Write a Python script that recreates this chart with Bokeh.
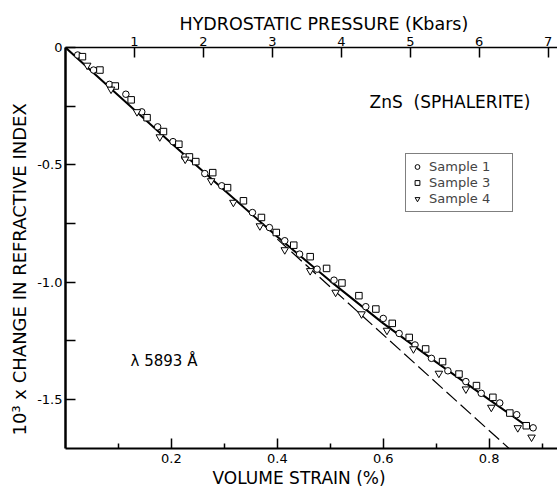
from bokeh.plotting import figure
from bokeh.models import (Range1d, LinearAxis, FixedTicker, Label, Legend, LegendItem, Title)
from bokeh.embed import file_html
from bokeh.resources import INLINE

# ---- data ----
s1_strain = [0.023, 0.053, 0.083, 0.114, 0.144, 0.174, 0.203, 0.225, 0.263, 0.295, 0.353,
             0.385, 0.414, 0.442, 0.475, 0.507, 0.567, 0.600, 0.630, 0.660, 0.691, 0.722,
             0.756, 0.785, 0.820, 0.852, 0.883]
s1_change = [-0.032, -0.096, -0.157, -0.199, -0.274, -0.338, -0.401, -0.466, -0.537, -0.589, -0.703,
             -0.767, -0.823, -0.880, -0.944, -0.991, -1.104, -1.154, -1.218, -1.267, -1.324, -1.377,
             -1.423, -1.473, -1.514, -1.564, -1.620]

s3_strain = [0.032, 0.065, 0.094, 0.124, 0.154, 0.185, 0.214, 0.234, 0.246, 0.278, 0.306, 0.336,
             0.370, 0.398, 0.431, 0.462, 0.493, 0.522, 0.554, 0.586, 0.617, 0.649, 0.680, 0.712,
             0.743, 0.776, 0.807, 0.839, 0.870]
s3_change = [-0.039, -0.096, -0.164, -0.223, -0.299, -0.358, -0.412, -0.466, -0.486, -0.533, -0.597, -0.653,
             -0.724, -0.788, -0.842, -0.891, -0.941, -1.003, -1.057, -1.114, -1.175, -1.235, -1.284, -1.338,
             -1.391, -1.440, -1.490, -1.557, -1.611]

s4_strain = [0.041, 0.086, 0.135, 0.178, 0.226, 0.275, 0.317, 0.367, 0.414, 0.462, 0.510, 0.559,
             0.607, 0.657, 0.705, 0.756, 0.804, 0.854, 0.880]
s4_change = [-0.076, -0.178, -0.274, -0.381, -0.476, -0.568, -0.660, -0.760, -0.862, -0.951, -1.043, -1.135,
             -1.205, -1.284, -1.388, -1.455, -1.533, -1.620, -1.660]

fit_strain = [0.0, 0.1, 0.2, 0.3, 0.4, 0.5, 0.6, 0.7, 0.8, 0.865]
fit_change = [0.0, -0.204, -0.408, -0.608, -0.806, -0.995, -1.175, -1.340, -1.500, -1.603]

lin_strain = [0.40, 0.8375]
lin_change = [-0.816, -1.708]

strain_ticks = [0.2, 0.4, 0.6, 0.8]
strain_minor = [0.1, 0.3, 0.5, 0.7, 0.9]
change_ticks = [0.0, -0.5, -1.0, -1.5]
change_minor = [-0.25, -0.75, -1.25]
pressure_ticks = [1, 2, 3, 4, 5, 6, 7]

FONT = "DejaVu Sans"

p = figure(width=557, height=487, output_backend="svg", toolbar_location=None,
           x_range=Range1d(0, 0.929), y_range=Range1d(-1.708, 0),
           x_axis_type=None, y_axis_type=None,
           min_border_left=65, min_border_right=0, min_border_top=47, min_border_bottom=39)
p.outline_line_color = None
p.xgrid.visible = False
p.ygrid.visible = False
p.background_fill_color = "white"
p.border_fill_color = "white"

def style_axis(ax, lw, minor_len):
    ax.axis_line_color = "black"
    ax.axis_line_width = lw
    ax.major_tick_in = 10
    ax.major_tick_out = 0
    ax.minor_tick_in = minor_len
    ax.minor_tick_out = 0
    ax.major_tick_line_width = 1.5
    ax.minor_tick_line_width = 1.5
    ax.major_tick_line_color = "black"
    ax.minor_tick_line_color = "black"
    ax.major_label_text_font = FONT
    ax.major_label_text_font_size = "13px"
    ax.major_label_text_color = "black"

bottom = LinearAxis(ticker=FixedTicker(ticks=strain_ticks, minor_ticks=strain_minor))
style_axis(bottom, 2, 5)
bottom.major_label_standoff = 5
bottom.major_label_overrides = {t: f"{t:.1f}" for t in strain_ticks}
p.add_layout(bottom, "below")

left = LinearAxis(ticker=FixedTicker(ticks=change_ticks, minor_ticks=change_minor))
style_axis(left, 2.5, 10)
left.major_label_standoff = 3
left.major_label_overrides = {0.0: "0", -0.5: "-0.5", -1.0: "-1.0", -1.5: "-1.5"}
p.add_layout(left, "left")

p.extra_x_ranges = {"pressure": Range1d(0, 7.135)}
top = LinearAxis(x_range_name="pressure", ticker=FixedTicker(ticks=pressure_ticks, minor_ticks=[]))
style_axis(top, 1.5, 0)
top.major_label_standoff = 2
p.add_layout(top, "above")

# axis titles as side-panel titles
p.add_layout(Title(text="HYDROSTATIC PRESSURE (Kbars)", align="left", offset=114, standoff=0,
                   text_font=FONT, text_font_size="17.5px", text_font_style="normal",
                   text_color="black"), "above")
p.add_layout(Title(text="VOLUME STRAIN (%)", align="left", offset=147, standoff=0,
                   text_font=FONT, text_font_size="17px", text_font_style="normal",
                   text_color="black"), "below")
p.add_layout(Title(text="10\u00b3 x CHANGE IN REFRACTIVE INDEX", align="left", offset=13, standoff=10,
                   text_font=FONT, text_font_size="18px", text_font_style="normal",
                   text_color="black"), "left")

# fit lines
p.line(lin_strain, lin_change, line_color="black", line_width=1.2, line_dash="14 5")
p.line(fit_strain, fit_change, line_color="black", line_width=2)

r1 = p.scatter(s1_strain, s1_change, marker="circle", size=6.5, fill_color="white",
               line_color="black", line_width=1)
r3 = p.scatter(s3_strain, s3_change, marker="square", size=6.5, fill_color="white",
               line_color="black", line_width=1)
r4 = p.scatter(s4_strain, s4_change, marker="inverted_triangle", size=7.5, fill_color="white",
               line_color="black", line_width=1)

pad = "\u00a0" * 4
legend = Legend(items=[LegendItem(label="Sample 1" + pad, renderers=[r1]),
                       LegendItem(label="Sample 3" + pad, renderers=[r3]),
                       LegendItem(label="Sample 4" + pad, renderers=[r4])],
                location=(340, 236), orientation="vertical",
                label_text_font=FONT, label_text_font_size="13px",
                glyph_width=12, glyph_height=15, label_height=15,
                label_standoff=6, padding=5, spacing=1, margin=0,
                border_line_color="black", border_line_width=1.5,
                background_fill_color="white", background_fill_alpha=1)
p.add_layout(legend, "center")

def add_text(x, y, text, size):
    p.add_layout(Label(x=x, y=y, text=text, text_font=FONT, text_font_size=size,
                       text_align="center", text_baseline="middle",
                       text_color="black"))

add_text(0.726, -0.232, "ZnS \u00a0(SPHALERITE)", "17px")
add_text(0.186, -1.334, "\u03bb 5893 \u00c5", "15px")

open("out.html", "w").write(file_html(p, INLINE))
